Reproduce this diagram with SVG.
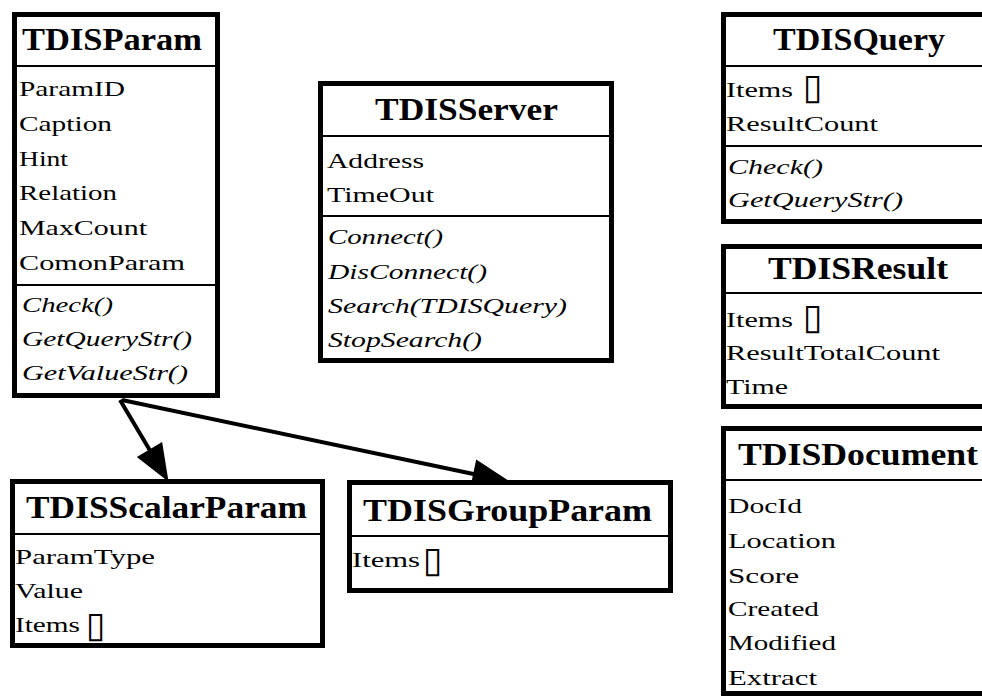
<svg xmlns="http://www.w3.org/2000/svg" width="982" height="696" viewBox="0 0 982 696">
<style>
.box{fill:#fff;stroke:#000;stroke-width:5}
.div{stroke:#000;stroke-width:2}
.h{font-family:"Liberation Serif","Times New Roman",serif;font-weight:bold;font-size:31px;fill:#000}
.t{font-family:"Liberation Serif","Times New Roman",serif;font-size:21px;fill:#000}
.m{font-family:"Liberation Serif","Times New Roman",serif;font-size:21px;font-style:italic;fill:#000}
.g{font-family:"DejaVu Sans",sans-serif;font-size:36px;fill:#000}
.c{stroke:#000;stroke-width:4;fill:none}
</style>
<defs>
<marker id="arr" markerUnits="userSpaceOnUse" markerWidth="44" markerHeight="34" viewBox="-2 -15 38 30" refX="12" refY="0" orient="auto">
<path d="M0,-13 L33,0 L0,13 z" fill="#000"/>
</marker>
</defs>
<rect width="982" height="696" fill="#fff"/>

<g id="connectors">
<path class="c" d="M120,400 L156.4,461.2" marker-end="url(#arr)"/>
<path class="c" d="M122,400 L486.5,476.7" marker-end="url(#arr)"/>
</g>

<g id="TDISParam">
<rect class="box" x="14.5" y="14.5" width="203" height="381"/>
<line class="div" x1="14" y1="66" x2="218" y2="66"/>
<line class="div" x1="14" y1="285" x2="218" y2="285"/>
<text class="h" x="22" y="50" textLength="180" lengthAdjust="spacingAndGlyphs">TDISParam</text>
<text class="t" x="19" y="96" textLength="106" lengthAdjust="spacingAndGlyphs">ParamID</text>
<text class="t" x="19" y="131" textLength="93" lengthAdjust="spacingAndGlyphs">Caption</text>
<text class="t" x="19" y="166" textLength="49" lengthAdjust="spacingAndGlyphs">Hint</text>
<text class="t" x="19" y="200" textLength="98" lengthAdjust="spacingAndGlyphs">Relation</text>
<text class="t" x="19" y="235" textLength="128" lengthAdjust="spacingAndGlyphs">MaxCount</text>
<text class="t" x="19" y="270" textLength="166" lengthAdjust="spacingAndGlyphs">ComonParam</text>
<text class="m" x="22" y="312" textLength="91" lengthAdjust="spacingAndGlyphs">Check()</text>
<text class="m" x="22" y="346" textLength="170" lengthAdjust="spacingAndGlyphs">GetQueryStr()</text>
<text class="m" x="22" y="380" textLength="166" lengthAdjust="spacingAndGlyphs">GetValueStr()</text>
</g>

<g id="TDISServer">
<rect class="box" x="320.5" y="83.5" width="291" height="277"/>
<line class="div" x1="320" y1="136" x2="612" y2="136"/>
<line class="div" x1="320" y1="216" x2="612" y2="216"/>
<text class="h" x="375" y="120" textLength="183" lengthAdjust="spacingAndGlyphs">TDISServer</text>
<text class="t" x="327" y="168" textLength="97" lengthAdjust="spacingAndGlyphs">Address</text>
<text class="t" x="327" y="202" textLength="107" lengthAdjust="spacingAndGlyphs">TimeOut</text>
<text class="m" x="328" y="244" textLength="115" lengthAdjust="spacingAndGlyphs">Connect()</text>
<text class="m" x="328" y="279" textLength="159" lengthAdjust="spacingAndGlyphs">DisConnect()</text>
<text class="m" x="328" y="313" textLength="239" lengthAdjust="spacingAndGlyphs">Search(TDISQuery)</text>
<text class="m" x="328" y="347" textLength="154" lengthAdjust="spacingAndGlyphs">StopSearch()</text>
</g>

<g id="TDISQuery">
<rect class="box" x="723.5" y="14.5" width="300" height="207"/>
<line class="div" x1="723" y1="66" x2="990" y2="66"/>
<line class="div" x1="723" y1="146" x2="990" y2="146"/>
<text class="h" x="773" y="50" textLength="172" lengthAdjust="spacingAndGlyphs">TDISQuery</text>
<text class="t" x="726" y="97" textLength="67" lengthAdjust="spacingAndGlyphs">Items</text>
<text class="g" x="803" y="99">▯</text>
<text class="t" x="726" y="131" textLength="152" lengthAdjust="spacingAndGlyphs">ResultCount</text>
<text class="m" x="728" y="174" textLength="95" lengthAdjust="spacingAndGlyphs">Check()</text>
<text class="m" x="728" y="207" textLength="175" lengthAdjust="spacingAndGlyphs">GetQueryStr()</text>
</g>

<g id="TDISResult">
<rect class="box" x="723.5" y="246.5" width="300" height="160"/>
<line class="div" x1="723" y1="293" x2="990" y2="293"/>
<text class="h" x="768" y="279" textLength="180" lengthAdjust="spacingAndGlyphs">TDISResult</text>
<text class="t" x="726" y="327" textLength="67" lengthAdjust="spacingAndGlyphs">Items</text>
<text class="g" x="803" y="329">▯</text>
<text class="t" x="726" y="360" textLength="214" lengthAdjust="spacingAndGlyphs">ResultTotalCount</text>
<text class="t" x="726" y="394" textLength="62" lengthAdjust="spacingAndGlyphs">Time</text>
</g>

<g id="TDISDocument">
<rect class="box" x="723.5" y="428.5" width="300" height="265"/>
<line class="div" x1="723" y1="480" x2="990" y2="480"/>
<text class="h" x="738" y="465" textLength="240" lengthAdjust="spacingAndGlyphs">TDISDocument</text>
<text class="t" x="728" y="513" textLength="74" lengthAdjust="spacingAndGlyphs">DocId</text>
<text class="t" x="728" y="548" textLength="108" lengthAdjust="spacingAndGlyphs">Location</text>
<text class="t" x="728" y="583" textLength="71" lengthAdjust="spacingAndGlyphs">Score</text>
<text class="t" x="728" y="616" textLength="91" lengthAdjust="spacingAndGlyphs">Created</text>
<text class="t" x="728" y="650" textLength="108" lengthAdjust="spacingAndGlyphs">Modified</text>
<text class="t" x="728" y="685" textLength="89" lengthAdjust="spacingAndGlyphs">Extract</text>
</g>

<g id="TDISScalarParam">
<rect class="box" x="12.5" y="481.5" width="310" height="164"/>
<line class="div" x1="12" y1="534" x2="323" y2="534"/>
<text class="h" x="26" y="518" textLength="281" lengthAdjust="spacingAndGlyphs">TDISScalarParam</text>
<text class="t" x="15" y="564" textLength="140" lengthAdjust="spacingAndGlyphs">ParamType</text>
<text class="t" x="15" y="598" textLength="68" lengthAdjust="spacingAndGlyphs">Value</text>
<text class="t" x="15" y="632" textLength="65" lengthAdjust="spacingAndGlyphs">Items</text>
<text class="g" x="86" y="637">▯</text>
</g>

<g id="TDISGroupParam">
<rect class="box" x="349.5" y="482.5" width="321" height="108"/>
<line class="div" x1="349" y1="536" x2="671" y2="536"/>
<text class="h" x="363" y="521" textLength="289" lengthAdjust="spacingAndGlyphs">TDISGroupParam</text>
<text class="t" x="352" y="567" textLength="68" lengthAdjust="spacingAndGlyphs">Items</text>
<text class="g" x="423" y="572">▯</text>
</g>
</svg>
